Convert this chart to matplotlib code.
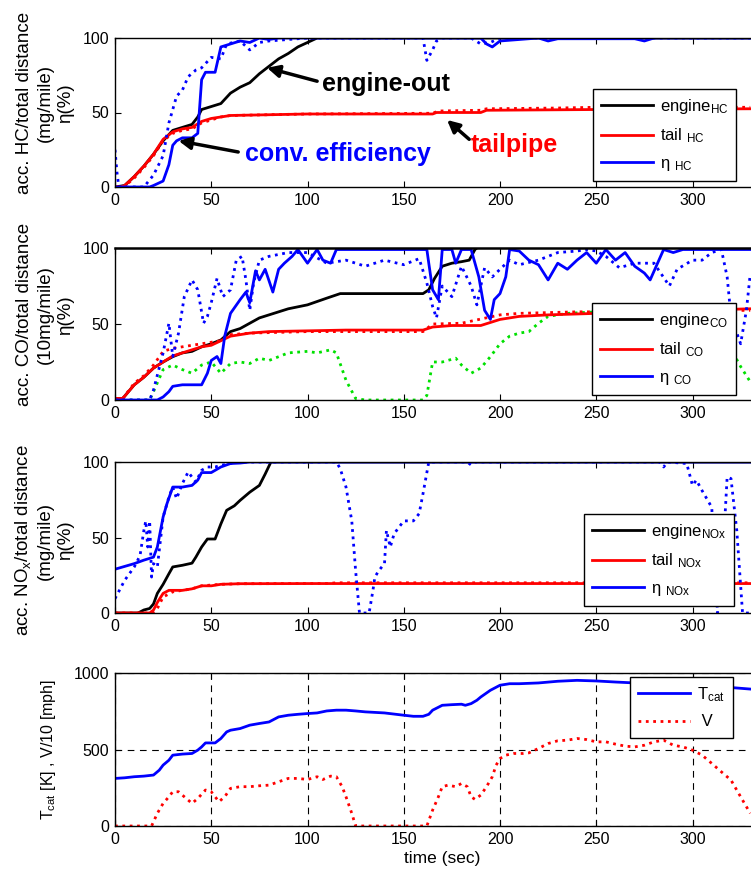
import matplotlib
matplotlib.use("Agg")
import matplotlib.pyplot as plt

plt.rcParams["font.family"] = ["Liberation Sans", "DejaVu Sans"]
plt.rcParams["mathtext.fontset"] = "custom"
plt.rcParams["mathtext.rm"] = "Liberation Sans"
plt.rcParams["mathtext.it"] = "Liberation Sans:italic"
plt.rcParams["mathtext.bf"] = "Liberation Sans:bold"

# ---- panel 1: HC ----
t_eng_hc = [0, 5, 10, 15, 20, 25, 30, 35, 40, 43, 45, 50, 55, 60, 65, 70, 75, 80, 85, 90, 95, 100, 105, 330]
v_eng_hc = [0, 1, 7, 14, 22, 31, 38, 40, 42, 47, 52, 54, 56, 63, 67, 70, 76, 81, 86, 89.6, 94, 97, 100, 100]
t_tail_hc = [0, 3, 5, 10, 15, 20, 25, 30, 35, 40, 45, 50, 55, 60, 80, 100, 165, 167, 190, 193, 250, 330]
v_tail_hc = [0, 0, 1, 7, 14, 22, 32, 37, 39, 40, 44, 46, 47, 48, 48.5, 49, 49, 50, 50, 51.5, 52, 52.5]
t_tail_hc2 = [0, 5, 10, 15, 20, 25, 30, 35, 40, 45, 50, 55, 60, 80, 100, 165, 168, 190, 193, 230, 250, 330]
v_tail_hc2 = [0, 0.5, 6, 13, 21, 31, 36, 38, 39, 43, 45, 47, 48, 48.5, 49, 49.5, 51, 51.5, 52.5, 53, 53.5, 53.5]
t_eta_hc = [0, 18, 20, 25, 28, 30, 32, 35, 40, 43, 45, 47, 52, 55, 60, 65, 70, 75, 80, 85,
            190, 193, 196, 200, 220, 225, 230, 270, 275, 280, 330]
v_eta_hc = [0, 0, 1, 4, 15, 28, 31, 33, 33, 36, 72, 77, 77, 94, 96, 98, 97, 100, 99, 100,
            100, 96, 94, 98, 100, 98, 99.5, 99.5, 98, 100, 100]
t_eta_hc2 = [0, 1, 2, 15, 20, 25, 28, 32, 35, 38, 42, 45, 50, 55, 58, 65, 70, 75, 80, 100,
             160, 162, 165, 167, 170, 185, 190, 195, 200, 330]
v_eta_hc2 = [25, 10, 0, 0, 8, 21, 43, 61, 65, 74, 78.5, 80, 87, 86, 96, 98, 92, 97, 98, 100,
             100, 85, 92, 98, 100, 100, 96, 97, 100, 100]

# ---- panel 2: CO ----
t_eng_co = [0, 4, 10, 15, 20, 25, 30, 35, 40, 45, 50, 55, 60, 65, 70, 75, 80, 85, 90, 100, 110, 117,
            160, 163, 166, 170, 175, 180, 184, 187, 188]
v_eng_co = [1, 1, 10, 15, 21, 25, 28.5, 31, 32, 35, 37, 39.5, 45, 47, 50.5, 54, 56, 58, 60, 62.6, 67, 70,
            70, 72.5, 80, 88, 90, 91, 92, 99, 100]
t_tail_co = [0, 4, 10, 15, 20, 25, 30, 35, 40, 45, 50, 55, 60, 65, 70, 80, 100, 120, 160, 165, 175,
             190, 195, 200, 210, 225, 250, 300, 330]
v_tail_co = [1, 1, 10, 15, 21, 25, 29, 31, 33, 35, 36, 39, 42, 43, 44, 45, 45.5, 46, 46, 48, 49,
             49, 51, 53, 55, 56, 57, 59, 60]
t_tail_co2 = [0, 4, 10, 15, 20, 25, 30, 40, 50, 55, 60, 70, 100, 160, 165, 180, 200, 210, 240, 250, 330]
v_tail_co2 = [1, 1, 11, 16, 23, 32, 34, 36, 38, 39, 43, 44, 45, 45, 50, 50.5, 56, 57, 58, 58, 59]
t_grn_co = [0, 18, 20, 25, 30, 35, 40, 45, 50, 55, 60, 65, 70, 75, 80, 90, 100, 105, 112, 115, 120,
            125, 130, 160, 162, 165, 170, 177, 180, 185, 190, 195, 200, 205, 210, 215, 220, 225, 235,
            250, 300, 315, 325, 330]
v_grn_co = [0, 0, 5.5, 20, 23, 20, 17.6, 23, 25, 17.6, 24, 25, 24, 27.5, 26, 31, 32, 31, 33, 31, 13,
            1, 0, 0, 3, 25, 25, 27.5, 23, 17.6, 21, 28.5, 37, 42, 44, 45, 50.5, 55, 57,
            58, 58, 45, 22, 12]
t_eta_co = [0, 22, 25, 28, 30, 35, 45, 48, 50, 53, 55, 57, 60, 65, 68, 70, 73, 75, 78, 82, 85, 88, 92,
            95, 100, 105, 108, 112, 115, 162, 163, 165, 168, 170, 175, 177, 180, 185, 189, 192, 195,
            197, 200, 203, 205, 210, 215, 220, 225, 230, 235, 240, 245, 250, 255, 260, 265, 270, 275,
            278, 285, 290, 295, 330]
v_eta_co = [0, 0, 2, 5.5, 9, 10, 10, 17.6, 26, 28.6, 24, 42, 57, 66, 71, 64, 85, 79, 86, 71, 86, 90, 94.5,
            99, 90, 99, 92, 90, 99, 99, 90, 72.5, 66, 99, 99, 90, 99, 99, 81, 59, 53,
            66, 70, 81, 99, 98, 92, 89, 79, 90, 86, 92, 97, 90, 99, 92, 97, 88, 83.5,
            79, 99, 97, 99, 99]
t_eta_co2 = [0, 18, 20, 25, 27, 28, 30, 33, 36, 40, 43, 46, 48, 50, 53, 56, 60, 63, 66, 68, 70, 72, 75,
             80, 90, 100, 110, 120, 130, 140, 150, 158, 162, 165, 167, 170, 175, 180, 185, 188, 192,
             196, 200, 205, 210, 220, 230, 240, 245, 250, 255, 262, 270, 280, 288, 292, 300, 305, 310,
             315, 318, 320, 325, 328, 330]
v_eta_co2 = [0, 0, 6.6, 31, 44, 50.5, 28.6, 44, 68, 79, 72.5, 50.5, 55, 64, 80, 68, 72.5, 92, 94.5, 79, 59, 77, 92,
             94.5, 97, 97, 90, 92, 88, 92, 89, 93, 77, 61.5, 54, 75, 68, 88, 75, 62.6, 87,
             81, 86, 92, 89, 92, 97, 98, 99, 98, 94.5, 87, 90, 90, 75, 86, 92, 92, 97,
             99, 81, 55, 37, 59, 83]

# ---- panel 3: NOx ----
t_eng_nox = [0, 12, 15, 18, 20, 22, 25, 28, 30, 35, 40, 42, 45, 48, 52, 55, 58, 62, 65, 70, 75, 78, 81, 330]
v_eng_nox = [0, 0, 2, 3, 6, 13, 19, 26, 30.5, 31.6, 33, 37, 43.7, 49, 49, 59, 68, 71, 74.6, 80, 84.5, 92, 100, 100]
t_tail_nox = [0, 18, 20, 22, 25, 28, 35, 40, 45, 50, 55, 65, 100, 330]
v_tail_nox = [0, 0, 2, 7, 13, 15, 15, 16, 18, 18, 19, 19.4, 19.5, 19.5]
t_tail_nox2 = [0, 19, 20, 22, 25, 30, 35, 40, 45, 55, 65, 110, 115, 330]
v_tail_nox2 = [0, 0, 0.7, 3, 10.6, 14, 15, 16, 18, 19, 19.4, 19.5, 20, 20]
t_eta_nox = [0, 10, 15, 20, 22, 25, 27, 30, 35, 40, 43, 45, 50, 55, 60, 65, 70, 330]
v_eta_nox = [29, 32.7, 35, 37, 43.7, 63.6, 72.4, 83.4, 83.4, 84.5, 88, 93, 93, 96.7, 99, 99.3, 100, 100]
t_eta_nox2 = [0, 5, 10, 13, 15, 16, 17, 18, 19, 20, 22, 25, 28, 30, 32, 35, 38, 40, 42, 45, 48, 52, 55,
              60, 65, 115, 117, 120, 123, 125, 127, 132, 134, 135, 137, 140, 141, 143, 145, 150, 155,
              158, 160, 163, 183, 185, 187, 283, 285, 287, 297, 300, 302, 305, 310, 313, 316, 318,
              320, 323, 326, 330]
v_eta_nox2 = [9.5, 21.6, 30.5, 38, 54.7, 61, 43.7, 61, 23.8, 32.7, 30.5, 63.6, 76.8, 83.4, 75.7, 85.7, 93.4, 90,
              86.8, 94.5, 96.7, 96.7, 97.8, 99, 100, 100, 95.6, 83.4, 61, 28, 0, 0, 15, 23.8, 28, 32.7,
              54.7, 43.7, 52.5, 61, 61, 65.8, 79, 100, 100, 98, 100, 100, 96.7, 100, 99, 84.5, 88, 81,
              70, 0, 43.7, 90, 89, 54.7, 0, 0]

# ---- panel 4: catalyst temperature and speed ----
t_tcat = [0, 5, 10, 15, 20, 23, 25, 28, 30, 35, 40, 43, 45, 47, 52, 55, 58, 60, 65, 70, 75, 80, 85, 90,
          95, 100, 105, 110, 115, 120, 125, 130, 140, 150, 155, 160, 163, 165, 170, 175, 180, 182, 185,
          188, 190, 195, 200, 205, 210, 220, 230, 240, 250, 260, 270, 280, 300, 320, 330]
v_tcat = [311, 315, 322, 326, 333, 365, 398, 430, 463, 470, 474, 496, 517, 543, 543, 572, 615, 626, 637,
          659, 670, 680, 713, 724, 730, 735, 739, 752, 757, 757, 752, 746, 739, 724, 717, 717, 730, 757,
          789, 793, 796, 789, 800, 822, 843, 887, 920, 930, 930, 935, 946, 952, 948, 941, 935, 930, 918,
          905, 895]
t_speed = [0, 19, 22, 25, 28, 30, 33, 37, 40, 43, 47, 50, 52, 54, 57, 60, 65, 70, 75, 80, 85, 90, 95,
           100, 105, 108, 112, 115, 118, 120, 123, 125, 162, 165, 168, 170, 173, 177, 180, 183, 185,
           187, 190, 193, 196, 198, 200, 203, 207, 212, 215, 220, 225, 230, 235, 240, 245, 250, 255,
           260, 265, 270, 275, 280, 285, 290, 295, 300, 305, 310, 315, 320, 325, 330]
v_speed = [0, 0, 83, 148, 191, 224, 224, 180, 148, 180, 235, 224, 191, 159, 191, 246, 257, 257, 263, 267,
           289, 311, 311, 304, 322, 304, 326, 322, 257, 191, 83, 0, 0, 104, 191, 257, 267, 257, 278,
           257, 191, 174, 202, 257, 322, 398, 441, 463, 474, 474, 478, 507, 539, 557, 561, 572, 565,
           550, 550, 535, 522, 517, 528, 550, 561, 528, 517, 496, 463, 409, 354, 300, 191, 83]

BLUE, RED, GREEN = "#0000ff", "#ff0000", "#00e000"
LW = 2.0

fig = plt.figure(figsize=(7.51, 8.69), dpi=100)
W, H = 751.0, 869.0
X0, PX_PER_S, XMAX = 115.0, 1.925, 340.0
ax_w = XMAX * PX_PER_S


def make_axes(top, bottom):
    return fig.add_axes([X0 / W, 1 - bottom / H, ax_w / W, (bottom - top) / H])


def style(ax, ymax, yticks):
    ax.set_xlim(0, XMAX)
    ax.set_ylim(0, ymax)
    ax.set_xticks([0, 50, 100, 150, 200, 250, 300])
    ax.set_yticks(yticks)
    ax.tick_params(direction="in", length=4, width=0.8, labelsize=11.5, top=True, right=True, pad=4)
    for s in ax.spines.values():
        s.set_linewidth(1.0)


def add_legend(ax, handles, labels, left, top):
    leg = ax.legend(handles, labels, loc="upper left", bbox_to_anchor=(left / W, 1 - top / H),
                    bbox_transform=fig.transFigure, borderaxespad=0, fontsize=12, handlelength=3.1,
                    handletextpad=0.4, labelspacing=0.62, borderpad=0.5, fancybox=False,
                    framealpha=1, edgecolor="black")
    leg.get_frame().set_linewidth(1.0)
    return leg


def ylabel(ax, text, right_px, ypos=0.5, size=13.5):
    ax.set_ylabel(text, fontsize=size, linespacing=1.25)
    ax.yaxis.set_label_coords((right_px - X0) / ax_w, ypos)


# panel 1
ax1 = make_axes(38, 187)
h1, = ax1.plot(t_eng_hc, v_eng_hc, color="k", lw=LW)
h2, = ax1.plot(t_tail_hc, v_tail_hc, color=RED, lw=LW)
ax1.plot(t_tail_hc2, v_tail_hc2, color=RED, lw=LW, ls=":")
ax1.plot(t_eta_hc2, v_eta_hc2, color=BLUE, lw=LW, ls=":")
h3, = ax1.plot(t_eta_hc, v_eta_hc, color=BLUE, lw=LW)
style(ax1, 100, [0, 50, 100])
ylabel(ax1, "acc. HC/total distance\n(mg/mile)\nη(%)", 74, 0.565)
add_legend(ax1, [h1, h2, h3], [r"engine$_{\mathrm{HC}}$", r"tail $_{\mathrm{HC}}$", r"η $_{\mathrm{HC}}$"], 593, 89)
arrow = dict(arrowstyle="-|>", color="k", lw=2.5, mutation_scale=18, shrinkA=0, shrinkB=0)
ax1.annotate("", xy=(79, 80), xytext=(105, 71), arrowprops=arrow)
ax1.text(107.5, 69, "engine-out", fontsize=18, fontweight="bold", color="k", ha="left", va="center")
ax1.annotate("", xy=(172.5, 45), xytext=(184, 32), arrowprops=arrow)
ax1.text(185, 28, "tailpipe", fontsize=18, fontweight="bold", color=RED, ha="left", va="center")
ax1.annotate("", xy=(33, 31), xytext=(64, 23.5), arrowprops=arrow)
ax1.text(67.5, 22, "conv. efficiency", fontsize=18, fontweight="bold", color=BLUE, ha="left", va="center")

# panel 2
ax2 = make_axes(248, 400)
h1, = ax2.plot(t_eng_co, v_eng_co, color="k", lw=LW)
ax2.plot(t_grn_co, v_grn_co, color=GREEN, lw=LW, ls=":")
ax2.plot(t_tail_co2, v_tail_co2, color=RED, lw=LW, ls=":")
h2, = ax2.plot(t_tail_co, v_tail_co, color=RED, lw=LW)
ax2.plot(t_eta_co2, v_eta_co2, color=BLUE, lw=LW, ls=":")
h3, = ax2.plot(t_eta_co, v_eta_co, color=BLUE, lw=LW)
style(ax2, 100, [0, 50, 100])
ax2.spines["top"].set_linewidth(1.8)
ylabel(ax2, "acc. CO/total distance\n(10mg/mile)\nη(%)", 74, 0.56)
add_legend(ax2, [h1, h2, h3], [r"engine$_{\mathrm{CO}}$", r"tail $_{\mathrm{CO}}$", r"η $_{\mathrm{CO}}$"], 592, 303)

# panel 3
ax3 = make_axes(462, 613)
h1, = ax3.plot(t_eng_nox, v_eng_nox, color="k", lw=LW)
ax3.plot(t_tail_nox2, v_tail_nox2, color=RED, lw=LW, ls=":")
h2, = ax3.plot(t_tail_nox, v_tail_nox, color=RED, lw=LW)
ax3.plot(t_eta_nox2, v_eta_nox2, color=BLUE, lw=LW, ls=":")
h3, = ax3.plot(t_eta_nox, v_eta_nox, color=BLUE, lw=LW)
style(ax3, 100, [0, 50, 100])
ylabel(ax3, "acc. NO$_{\\mathrm{x}}$/total distance\n(mg/mile)\nη(%)", 74, 0.48)
add_legend(ax3, [h1, h2, h3], [r"engine$_{\mathrm{NOx}}$", r"tail $_{\mathrm{NOx}}$", r"η $_{\mathrm{NOx}}$"], 584, 514)

# panel 4
ax4 = make_axes(673, 826)
h1, = ax4.plot(t_tcat, v_tcat, color=BLUE, lw=LW)
h2, = ax4.plot(t_speed, v_speed, color=RED, lw=LW, ls=":")
style(ax4, 1000, [0, 500, 1000])
ax4.grid(True, color="k", ls=(0, (6, 5)), lw=0.8)
ax4.set_xlabel("time (sec)", fontsize=12.5, labelpad=3)
ylabel(ax4, r"T$_{\mathrm{cat}}$ [K] , V/10 [mph]", 58, size=11.5)
add_legend(ax4, [h1, h2], [r"T$_{\mathrm{cat}}$", " V"], 630, 677)

fig.savefig("out.png", dpi=100)
